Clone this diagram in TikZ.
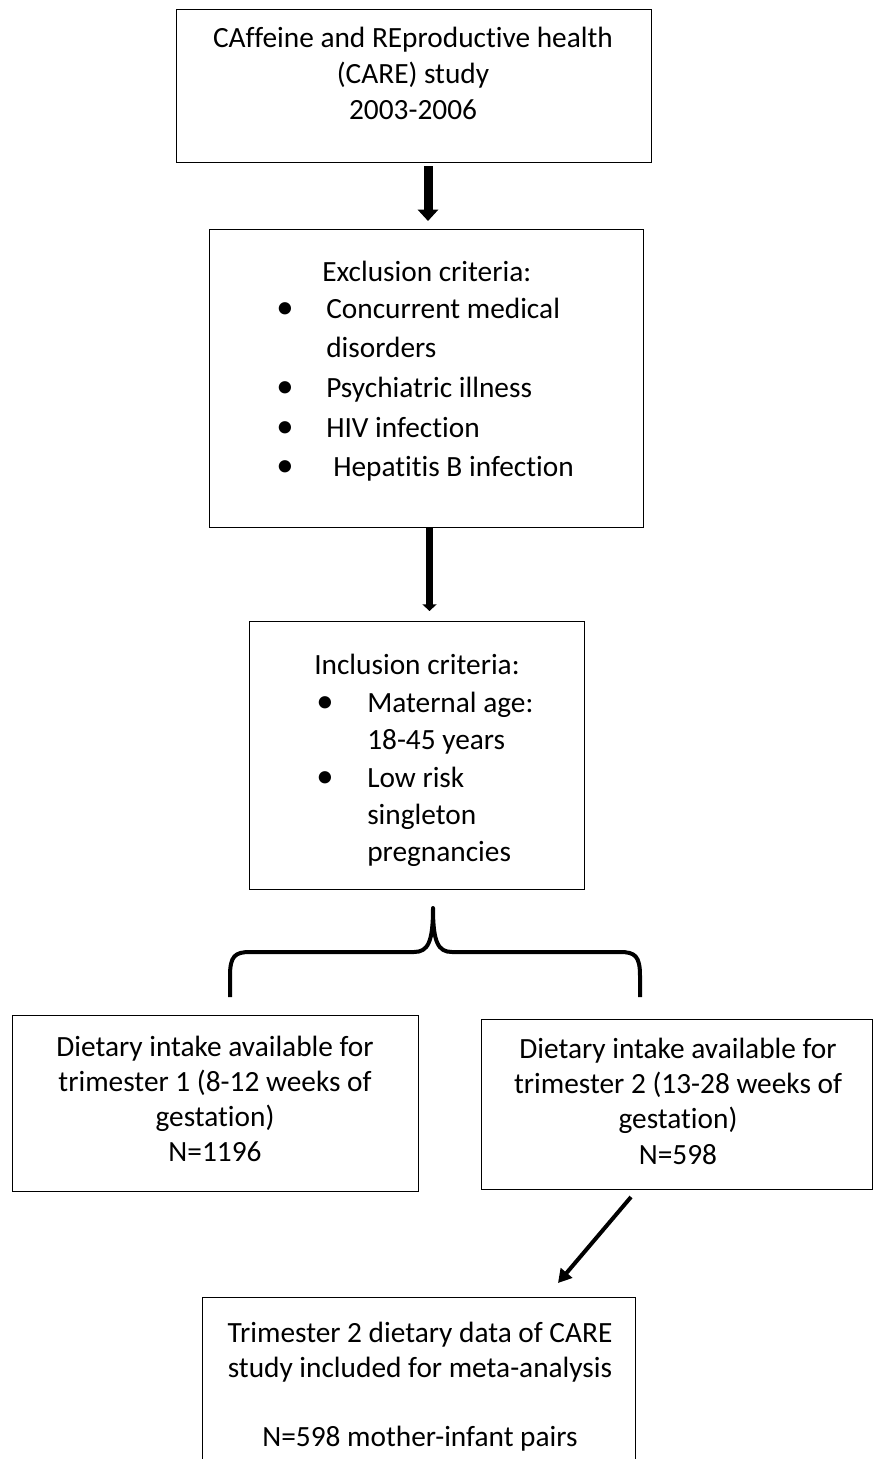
\documentclass[tikz,border=0pt]{standalone}
\usepackage{fontspec}
\setmainfont{Carlito}[Ligatures=NoCommon]
\usetikzlibrary{arrows.meta}
\begin{document}
\begin{tikzpicture}[x=0.75pt,y=-0.75pt,
  box/.style={draw=black, line width=0.9pt, inner sep=0pt, anchor=north west},
  txt/.style={inner sep=0pt, font=\fontsize{22}{26}\selectfont, text=black},
  ctxt/.style={txt, anchor=base},
  ltxt/.style={txt, anchor=base west},
  bul/.style={inner sep=0pt, anchor=base, font=\fontsize{26}{26}\selectfont, text=black},
  fatA/.style={line width=6.75pt, -{Triangle[length=8.5pt,width=15pt]}},
  fatB/.style={line width=5.25pt, -{Triangle[length=5pt,width=10.5pt]}},
  thinA/.style={line width=3pt, -{Triangle[length=10pt,width=11pt]}},
  brace/.style={line width=3pt, line join=round}
]
\clip (0,0) rectangle (880,1459);
\fill[white] (0,0) rectangle (880,1459);

% boxes
\node[box, minimum width=356.25pt, minimum height=114.75pt] (b1) at (176,9) {};
\node[box, minimum width=325.5pt, minimum height=223.5pt] (b2) at (209,229) {};
\node[box, minimum width=251.25pt, minimum height=201pt] (b3) at (249,621) {};
\node[box, minimum width=304.5pt, minimum height=132pt] (b4) at (12,1015) {};
\node[box, minimum width=293.25pt, minimum height=127.5pt] (b5) at (481,1019) {};
\node[box, minimum width=324.75pt, minimum height=150pt] (b6) at (202,1297) {};

% box 1 text
\node[ctxt] (t11) at (413,48) {CAffeine and REproductive health};
\node[ctxt] (t12) at (413,84) {(CARE) study};
\node[ctxt] (t13) at (413,120) {2003-2006};

% box 2 text
\node[ltxt] (t21) at (322,281) {Exclusion criteria:};
\node[bul] (u22) at (285,318) {•};
\node[ltxt] (t22) at (326,318) {Concurrent medical};
\node[ltxt] (t23) at (326,357) {disorders};
\node[bul] (u24) at (285,397) {•};
\node[ltxt] (t24) at (326,397) {Psychiatric illness};
\node[bul] (u25) at (285,437) {•};
\node[ltxt] (t25) at (326,437) {HIV infection};
\node[bul] (u26) at (285,476) {•};
\node[ltxt] (t26) at (333,476) {Hepatitis B infection};

% box 3 text
\node[ltxt] (t31) at (314,674) {Inclusion criteria:};
\node[bul] (u32) at (325,712) {•};
\node[ltxt] (t32) at (367,712) {Maternal age:};
\node[ltxt] (t33) at (367,749) {18-45 years};
\node[bul] (u34) at (325,787) {•};
\node[ltxt] (t34) at (367,787) {Low risk};
\node[ltxt] (t35) at (367,824) {singleton};
\node[ltxt] (t36) at (367,861) {pregnancies};

% box 4 text
\node[ctxt] (t41) at (215,1056) {Dietary intake available for};
\node[ctxt] (t42) at (215,1091) {trimester 1 (8-12 weeks of};
\node[ctxt] (t43) at (215,1126) {gestation)};
\node[ctxt] (t44) at (215,1161) {N=1196};

% box 5 text
\node[ctxt] (t51) at (678,1058) {Dietary intake available for};
\node[ctxt] (t52) at (678,1093) {trimester 2 (13-28 weeks of};
\node[ctxt] (t53) at (678,1128) {gestation)};
\node[ctxt] (t54) at (678,1164) {N=598};

% box 6 text
\node[ctxt] (t61) at (420,1342) {Trimester 2 dietary data of CARE};
\node[ctxt] (t62) at (420,1377) {study included for meta-analysis};
\node[ctxt] (t63) at (420,1446) {N=598 mother-infant pairs};

% arrows
\coordinate (x1) at (428,0);
\draw[fatA, shorten <=2.25pt, shorten >=6pt] (b1.south -| x1) -- (b2.north -| x1);
\coordinate (x2) at (429.5,0);
\draw[fatB, shorten >=7.5pt] (b2.south -| x2) -- (b3.north -| x2);
\coordinate (s3) at (631,1197);
\coordinate (e3) at (558,1283);
\draw[thinA] (s3) -- (e3);

% brace
\coordinate (bt) at (433,908);
\draw[brace] (230,997) -- (230,976) .. controls (230,956) and (235,952) .. (250,952)
  -- (414,952) .. controls (428,952) and (433,942) .. (bt)
  .. controls (433,942) and (438,952) .. (452,952)
  -- (620,952) .. controls (635,952) and (640,956) .. (640,976) -- (640,997);
\end{tikzpicture}
\end{document}
